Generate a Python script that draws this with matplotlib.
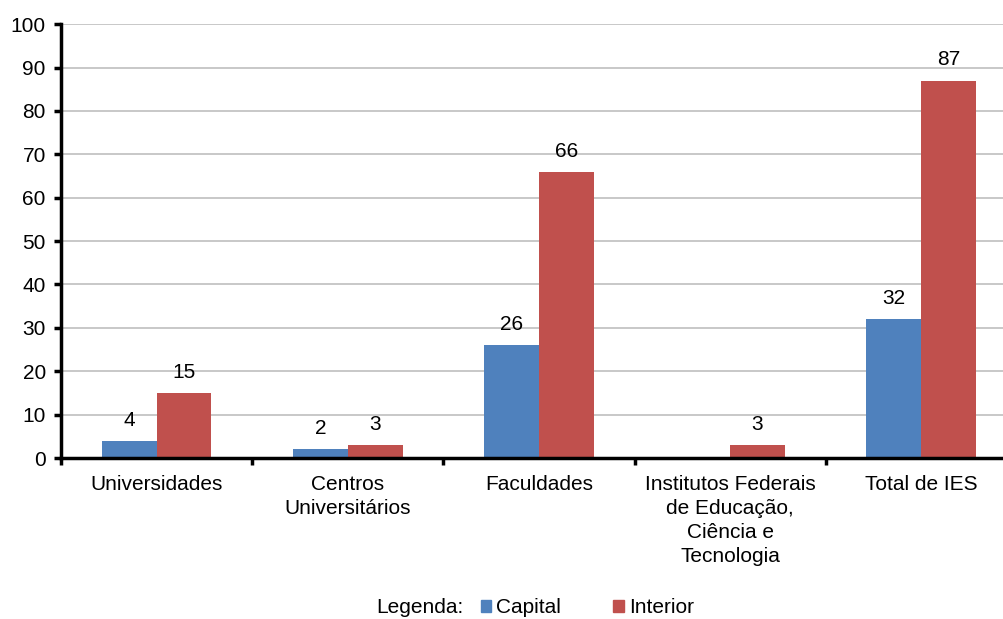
import matplotlib
matplotlib.use("Agg")
import matplotlib.patches as mpatches
import matplotlib.pyplot as plt
import numpy as np

plt.rcParams["font.family"] = ["Liberation Sans", "DejaVu Sans"]

categories = [
    "Universidades",
    "Centros\nUniversitários",
    "Faculdades",
    "Institutos Federais\nde Educação,\nCiência e\nTecnologia",
    "Total de IES",
]
capital = [4, 2, 26, 0, 32]
interior = [15, 3, 66, 3, 87]
y_ticks = list(range(0, 101, 10))

blue = "#4f81bd"
red = "#c0504d"
fs = 15

fig = plt.figure(figsize=(10.04, 6.19), dpi=100)
ax = fig.add_axes([0.0608, 0.26, 0.952, 0.701])

x = np.arange(len(categories))
w = 0.287
bars_c = ax.bar(x - w / 2, capital, w, color=blue, zorder=3)
bars_i = ax.bar(x + w / 2, interior, w, color=red, zorder=3)

for bars, vals in ((bars_c, capital), (bars_i, interior)):
    for bar, val in zip(bars, vals):
        if val == 0:
            continue
        ax.annotate(str(val), xy=(bar.get_x() + bar.get_width() / 2, bar.get_height()),
                    xytext=(0, 8), textcoords="offset points", ha="center", va="bottom",
                    fontsize=fs)

ax.set_xlim(-0.5, len(categories) - 0.5)
ax.set_ylim(0, 100)
ax.set_yticks(y_ticks)
ax.tick_params(axis="y", labelsize=fs, length=5, width=2.5, direction="out", pad=6)
ax.set_xticks(np.arange(len(categories) + 1) - 0.5)
ax.set_xticklabels([])
ax.tick_params(axis="x", length=5, width=2.5, direction="out")
ax.set_xticks(x, minor=True)
ax.set_xticklabels(categories, minor=True, fontsize=fs, linespacing=1.35)
ax.tick_params(axis="x", which="minor", length=0, pad=12)

ax.grid(axis="y", color="#bfbfbf", linewidth=1.2, zorder=0)
ax.spines["top"].set_visible(False)
ax.spines["right"].set_visible(False)
for s in ("left", "bottom"):
    ax.spines[s].set_linewidth(2.5)
    ax.spines[s].set_zorder(4)

handles = [mpatches.Patch(color=blue, label="Capital"),
           mpatches.Patch(color=red, label="Interior")]
fig.legend(handles=handles, ncol=2, frameon=False, fontsize=fs,
           loc="center", bbox_to_anchor=(0.585, 0.018),
           handlelength=0.5, handleheight=0.5, handletextpad=0.25, columnspacing=2.5)
fig.text(0.462, 0.018, "Legenda:", fontsize=fs, ha="right", va="center")

fig.savefig("out.png", dpi=100)
